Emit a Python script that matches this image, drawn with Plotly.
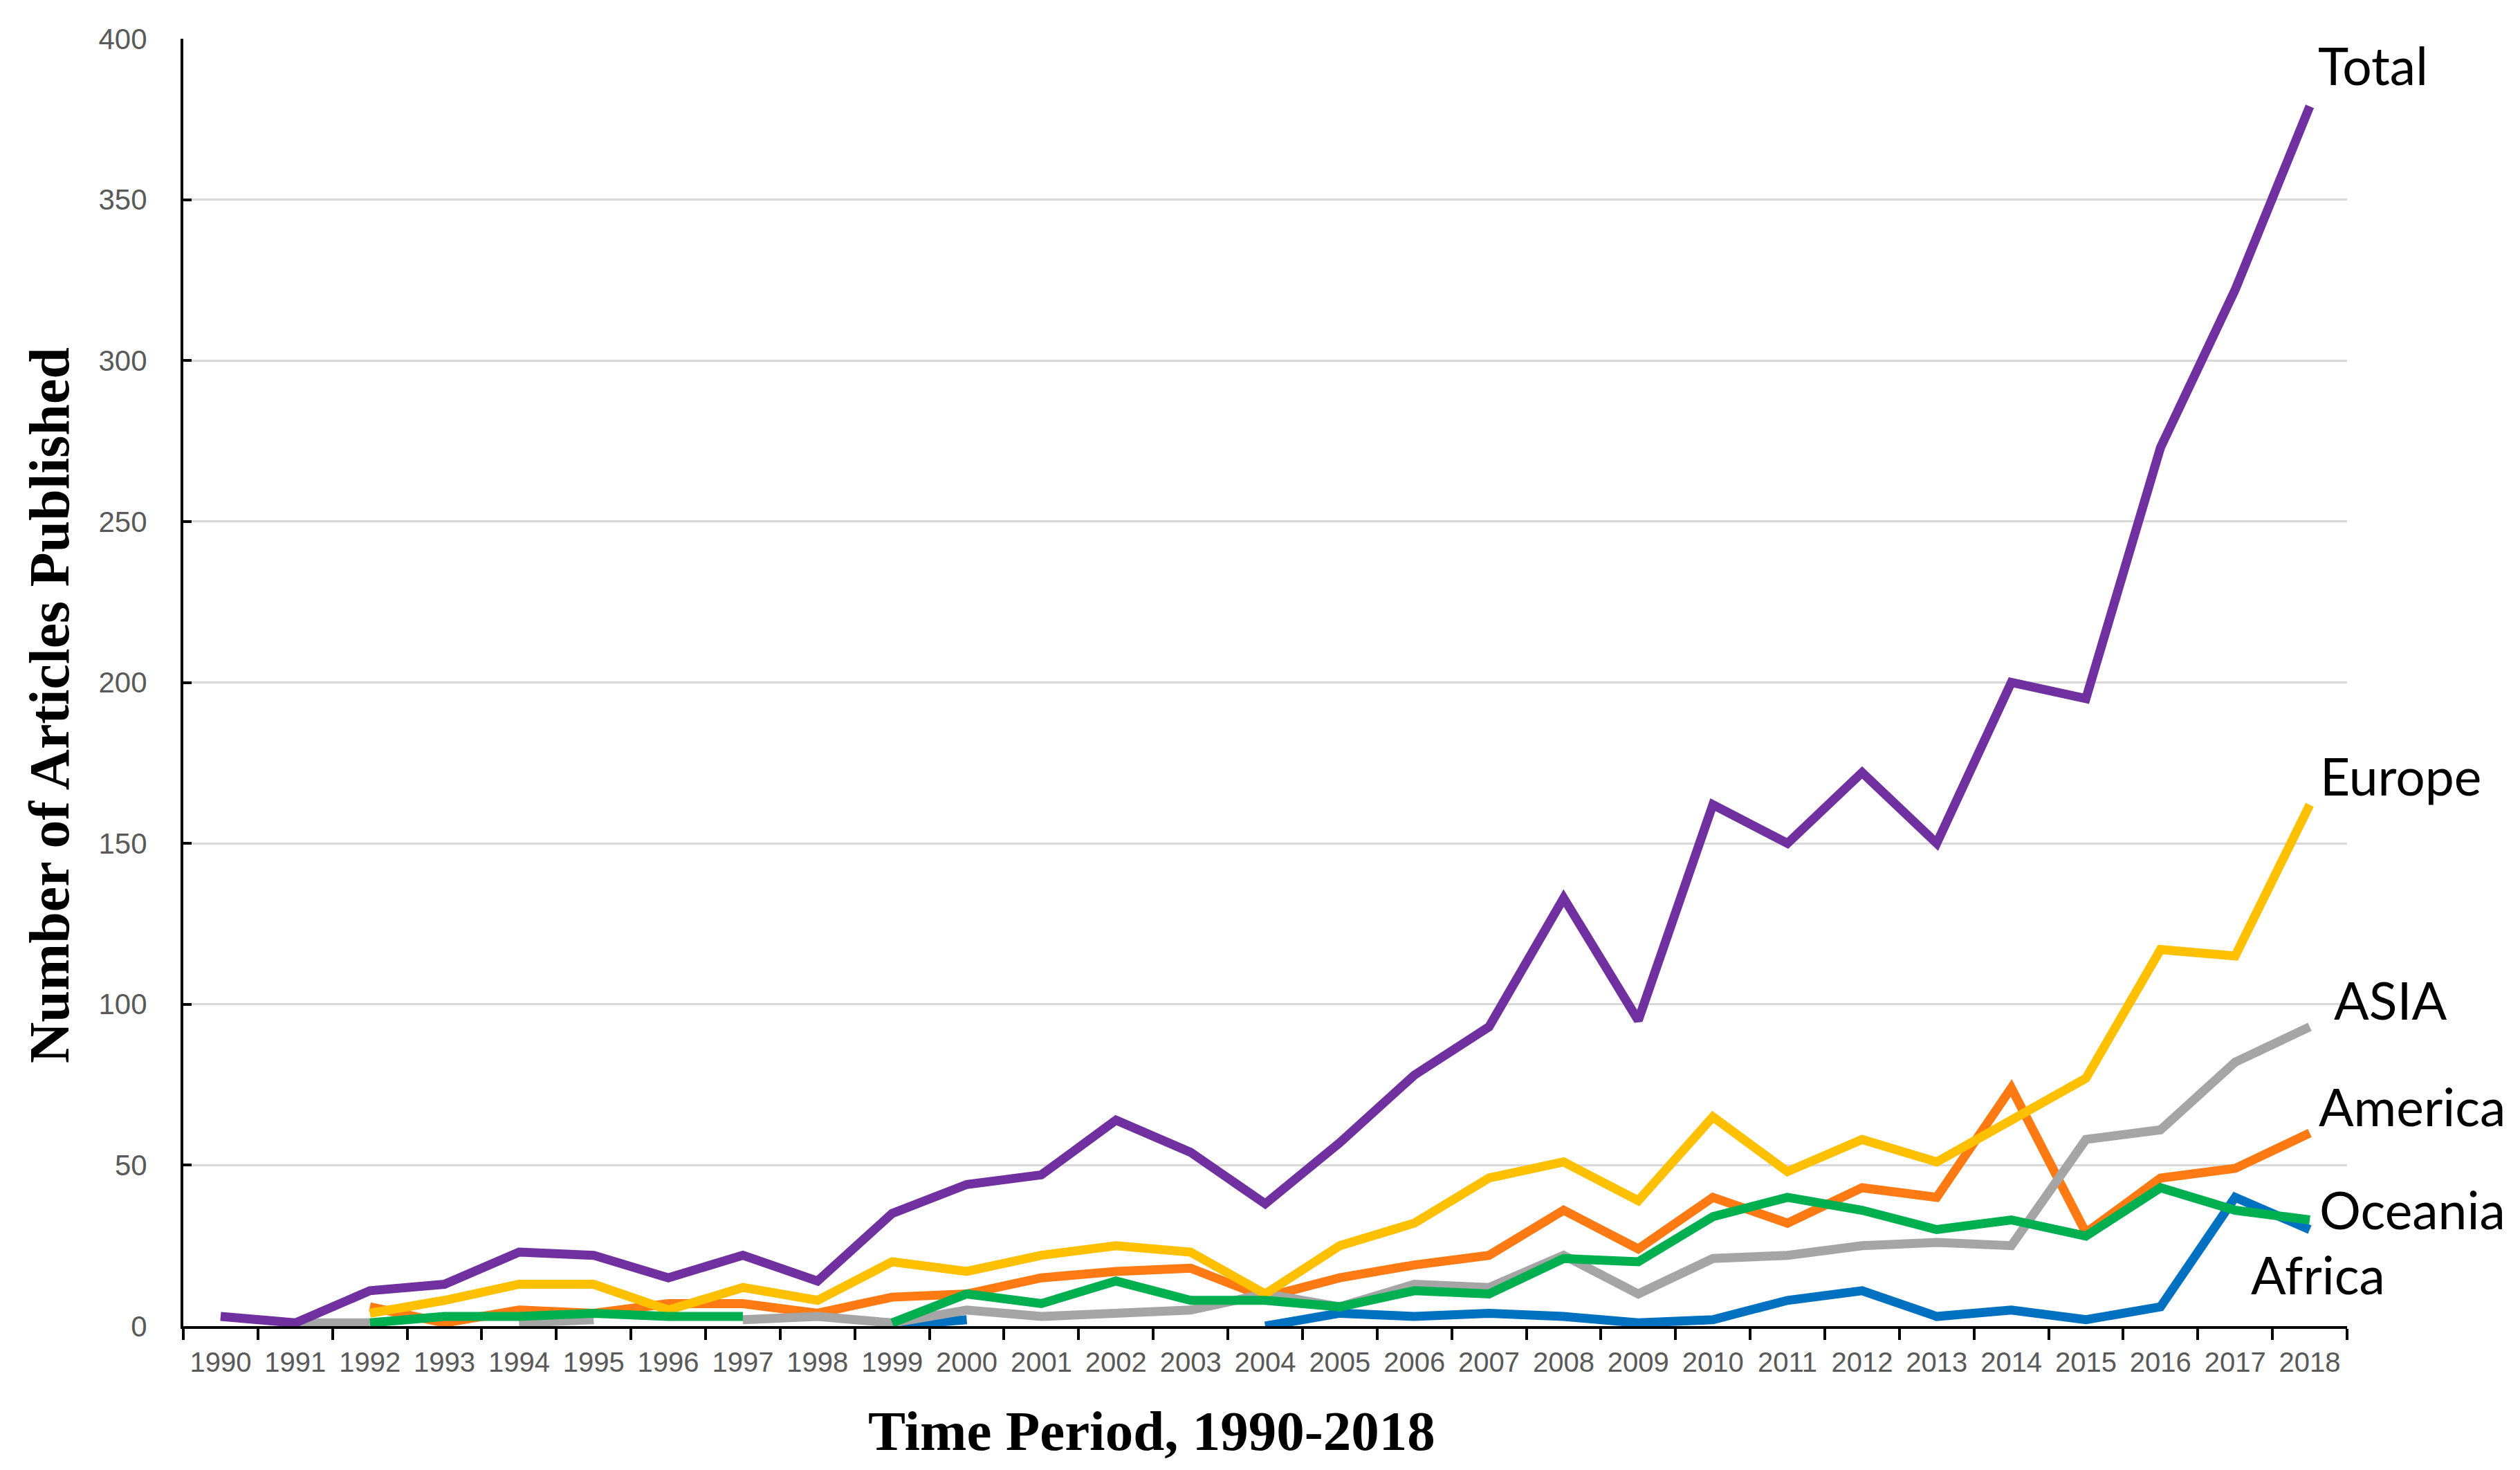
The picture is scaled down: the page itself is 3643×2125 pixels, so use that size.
import plotly.graph_objects as go

years = [str(y) for y in range(1990, 2019)]

total   = [3, 1, 11, 13, 23, 22, 15, 22, 14, 35, 44, 47, 64, 54, 38, 57, 78, 93, 133, 95, 162, 150, 172, 150, 200, 195, 273, 322, 379]
europe  = [None, None, 4, 8, 13, 13, 5, 12, 8, 20, 17, 22, 25, 23, 10, 25, 32, 46, 51, 39, 65, 48, 58, 51, 64, 77, 117, 115, 162]
america = [None, None, 6, 1, 5, 4, 7, 7, 4, 9, 10, 15, 17, 18, 9, 15, 19, 22, 36, 24, 40, 32, 43, 40, 74, 29, 46, 49, 60]
asia    = [None, 1, 1, None, 1, 2, None, 2, 3, 1, 5, 3, 4, 5, 10, 6, 13, 12, 22, 10, 21, 22, 25, 26, 25, 58, 61, 82, 93]
oceania = [None, None, 1, 3, 3, 4, 3, 3, None, 1, 10, 7, 14, 8, 8, 6, 11, 10, 21, 20, 34, 40, 36, 30, 33, 28, 43, 36, 33]
africa  = [None] * 9 + [0, 2, None, None, None, 0, 4, 3, 4, 3, 1, 2, 8, 11, 3, 5, 2, 6, 40, 30]

y_ticks = [0, 50, 100, 150, 200, 250, 300, 350, 400]

# drawing order bottom -> top: (name, values, colour, label x-shift px, label y-shift px)
series = [
    ("Africa", africa, "#0070C0", -87, -65),
    ("America", america, "#FF7A12", 11, 39),
    ("ASIA", asia, "#A5A5A5", 33, 39),
    ("Europe", europe, "#FFC000", 13, 42),
    ("Oceania", oceania, "#00B050", 12, 15),
    ("Total", total, "#7030A0", 10, 60),
]

fig = go.Figure()
annotations = []
last_idx = len(years) - 1
for name, vals, color, xs, ys in series:
    fig.add_trace(go.Scatter(
        x=years, y=vals, mode="lines", name=name,
        line=dict(color=color, width=13),
        connectgaps=False, showlegend=False,
    ))
    annotations.append(dict(
        x=last_idx, y=vals[-1], xref="x", yref="y",
        text=name, showarrow=False, xanchor="left", yanchor="middle",
        xshift=xs, yshift=ys,
        font=dict(family="Lato, Open Sans, sans-serif", size=75, color="black"),
    ))

W, H = 3643, 2125
L, R, T, B = 257, 258, 48, 216
pw, ph = W - L - R, H - T - B

annotations.append(dict(
    text="<b>Time Period, 1990-2018</b>", xref="paper", yref="paper",
    x=(1657 - L) / pw, y=-(2061 - (H - B)) / ph, xanchor="center", yanchor="middle",
    showarrow=False,
    font=dict(family="Liberation Serif, Times New Roman, serif", size=81, color="black"),
))
annotations.append(dict(
    text="<b>Number of Articles Published</b>", xref="paper", yref="paper",
    x=(63 - L) / pw, y=((H - B) - 1012) / ph, xanchor="center", yanchor="middle",
    textangle=-90, showarrow=False,
    font=dict(family="Liberation Serif, Times New Roman, serif", size=82, color="black"),
))

tick_font = dict(family="Liberation Sans, Arial, sans-serif", size=40, color="#595959")

fig.update_layout(
    width=W, height=H,
    margin=dict(l=L, r=R, t=T, b=B, autoexpand=False),
    paper_bgcolor="white", plot_bgcolor="white",
    annotations=annotations,
    xaxis=dict(
        type="category", range=[-0.5, 28.5],
        showline=True, linecolor="black", linewidth=4,
        ticks="outside", tickson="boundaries", ticklen=16, tickwidth=4, tickcolor="black",
        showgrid=False, tickfont=tick_font, tickangle=0, ticklabelstandoff=14,
    ),
    yaxis=dict(
        range=[0, 400], tickvals=y_ticks,
        showline=True, linecolor="black", linewidth=4,
        ticks="inside", ticklen=12, tickwidth=4, tickcolor="black",
        showgrid=True, gridcolor="#D9D9D9", gridwidth=3, zeroline=False,
        tickfont=dict(tick_font, size=42), ticklabelstandoff=40,
    ),
)

fig.write_html("out.html")
